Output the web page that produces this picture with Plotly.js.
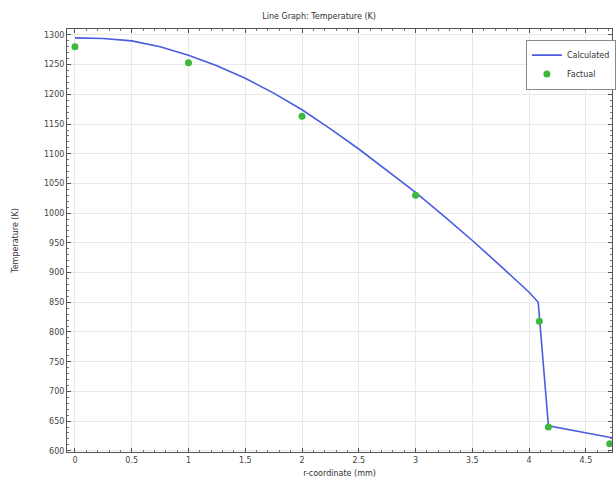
<!DOCTYPE html>
<html>
<head>
<meta charset="utf-8">
<script src="https://cdn.plot.ly/plotly-3.0.1.min.js"></script>
<style>html,body{margin:0;padding:0;background:#fff;}#chart{width:616px;height:484px;}</style>
</head>
<body>
<div id="chart"></div>
<script>
const calcX = [0, 0.25, 0.5, 0.75, 1, 1.25, 1.5, 1.75, 2, 2.25, 2.5, 2.75, 3, 3.25, 3.5, 3.75, 4, 4.08, 4.17, 4.73];
const calcY = [1295, 1294, 1290, 1280, 1266, 1248, 1227, 1202, 1174, 1142, 1108, 1072, 1035, 995, 954, 911, 867, 850, 642, 622];
const factX = [0, 1, 2, 3, 4.09, 4.17, 4.71];
const factY = [1280, 1253, 1163, 1030, 818, 640, 612];
const xTicks = [0, 0.5, 1, 1.5, 2, 2.5, 3, 3.5, 4, 4.5];
const yTicks = [600, 650, 700, 750, 800, 850, 900, 950, 1000, 1050, 1100, 1150, 1200, 1250, 1300];

const traces = [
  {x: calcX, y: calcY, mode: 'lines', name: 'Calculated', line: {color: '#4a5ce0', width: 1.6}},
  {x: factX, y: factY, mode: 'markers', name: 'Factual', marker: {color: '#3cb83c', size: 7, symbol: 'circle'}}
];

const fnt = 'DejaVu Sans, sans-serif';
const axisCommon = {
  showline: true, linecolor: '#555', linewidth: 1, mirror: 'ticks',
  ticks: 'inside', ticklen: 4, tickcolor: '#555',
  showgrid: true, gridcolor: '#e8e8e8', gridwidth: 1,
  zeroline: false,
  tickfont: {family: fnt, size: 8, color: '#444'}
};

const layout = {
  width: 616, height: 484,
  margin: {l: 67, r: 0, t: 29, b: 32},
  paper_bgcolor: '#fff', plot_bgcolor: '#fff',
  title: {text: 'Line Graph: Temperature (K)', x: 0.518, xanchor: 'center', y: 0.967, yanchor: 'middle',
          font: {family: fnt, size: 8, color: '#333'}},
  xaxis: Object.assign({}, axisCommon, {
    range: [-0.07, 4.73], tickvals: xTicks, ticktext: xTicks.map(String),
    title: {text: 'r-coordinate (mm)', standoff: 6, font: {family: fnt, size: 8, color: '#333'}},
    minor: {ticks: 'inside', ticklen: 2, tickcolor: '#777', showgrid: false, dtick: 0.1}
  }),
  yaxis: Object.assign({}, axisCommon, {
    range: [598, 1310], tickvals: yTicks, ticktext: yTicks.map(String),
    title: {text: 'Temperature (K)', standoff: 24, font: {family: fnt, size: 8, color: '#333'}},
    minor: {ticks: 'inside', ticklen: 2, tickcolor: '#777', showgrid: false, dtick: 10}
  }),
  showlegend: true,
  legend: {x: 0.842, y: 0.975, xanchor: 'left', yanchor: 'top', bgcolor: '#fff', bordercolor: '#888', borderwidth: 1,
           font: {family: fnt, size: 8, color: '#333'}, tracegroupgap: 0, itemwidth: 30}
};

Plotly.newPlot('chart', traces, layout, {displayModeBar: false, staticPlot: true});
</script>
</body>
</html>
